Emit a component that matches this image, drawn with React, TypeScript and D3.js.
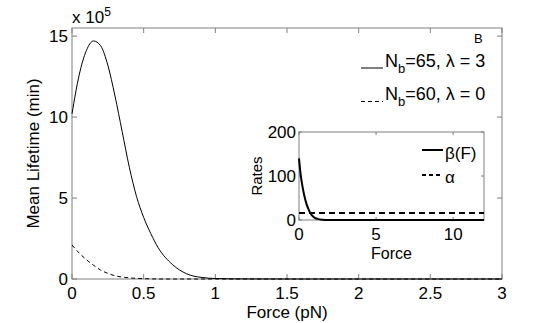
import React from 'react';
import * as d3 from 'd3';

// main panel: mean lifetime (x 10^5 min) vs force (pN)
const force = [0, 0.05, 0.1, 0.15, 0.2, 0.25, 0.3, 0.35, 0.4, 0.45, 0.5, 0.55, 0.6, 0.7, 0.8, 0.9, 1.0, 1.2, 1.5, 2, 2.5, 3];
const lifetimeNb65 = [10.2, 12.6, 14.1, 14.7, 14.4, 13.2, 11.3, 9.1, 6.9, 5.1, 3.8, 2.8, 1.95, 0.9, 0.32, 0.1, 0.03, 0.005, 0, 0, 0, 0];
const lifetimeNb60 = [2.1, 1.6, 1.2, 0.85, 0.55, 0.35, 0.2, 0.12, 0.07, 0.04, 0.02, 0.01, 0, 0, 0, 0, 0, 0, 0, 0, 0, 0];

const xTicks = [0, 0.5, 1, 1.5, 2, 2.5, 3];
const yTicks = [0, 5, 10, 15];

// inset: rates vs force
const insetForce = [0, 0.1, 0.25, 0.4, 0.5, 0.6, 0.75, 0.9, 1.0, 1.2, 1.5, 2, 3, 5, 8, 12];
const beta = [140, 105, 72, 47, 35, 26, 15, 8.5, 5.5, 2.5, 0.8, 0.1, 0, 0, 0, 0];
const alpha = insetForce.map(() => 16);
const insetXTicks = [0, 5, 10];
const insetYTicks = [0, 100, 200];

const font = '"Liberation Sans", Arial, Helvetica, sans-serif';
const axisColor = '#7f7f7f';

export default function App() {
  const W = 554, H = 323;
  const m = { left: 72, right: 502, top: 28, bottom: 279 };

  const x = d3.scaleLinear().domain([0, 3]).range([m.left, m.right]);
  const y = d3.scaleLinear().domain([0, 15.5]).range([m.bottom, m.top]);

  const line = d3.line<number>()
    .x((_, i) => x(force[i]))
    .curve(d3.curveMonotoneX);

  const solidPath = line.y((d) => y(d))(lifetimeNb65) || '';
  const dashPath = line.y((d) => y(d))(lifetimeNb60) || '';

  // inset
  const ins = { left: 299, right: 484, top: 132, bottom: 220 };
  const xi = d3.scaleLinear().domain([0, 12]).range([ins.left, ins.right]);
  const yi = d3.scaleLinear().domain([0, 200]).range([ins.bottom, ins.top]);
  const iline = d3.line<number>()
    .x((_, i) => xi(insetForce[i]))
    .y((d) => yi(d))
    .curve(d3.curveMonotoneX);

  const tk = 5;

  return (
    <svg width={W} height={H} style={{ position: 'absolute', left: 0, top: 0, background: '#fff' }}
      fontFamily={font}>
      <rect x={0} y={0} width={W} height={H} fill="#fff" />

      {/* main box */}
      <rect x={m.left} y={m.top} width={m.right - m.left} height={m.bottom - m.top}
        fill="none" stroke={axisColor} strokeWidth={1} />
      {xTicks.map((t) => (
        <g key={'xt' + t}>
          <line x1={x(t)} x2={x(t)} y1={m.bottom} y2={m.bottom - tk} stroke={axisColor} />
          <line x1={x(t)} x2={x(t)} y1={m.top} y2={m.top + tk} stroke={axisColor} />
          <text x={x(t)} y={299} fontSize={17} textAnchor="middle">{t}</text>
        </g>
      ))}
      {yTicks.map((t) => (
        <g key={'yt' + t}>
          <line x1={m.left} x2={m.left + tk} y1={y(t)} y2={y(t)} stroke={axisColor} />
          <line x1={m.right} x2={m.right - tk} y1={y(t)} y2={y(t)} stroke={axisColor} />
          <text x={68} y={y(t) + 6} fontSize={17} textAnchor="end">{t}</text>
        </g>
      ))}
      <text x={72} y={23} fontSize={17}>x 10<tspan dy={-7} fontSize={12}>5</tspan></text>
      <text x={(m.left + m.right) / 2} y={318} fontSize={17} textAnchor="middle">Force (pN)</text>
      <text transform={`translate(39,${(m.top + m.bottom) / 2}) rotate(-90)`} fontSize={17}
        textAnchor="middle">Mean Lifetime (min)</text>

      <path d={solidPath} fill="none" stroke="#000" strokeWidth={1} />
      <path d={dashPath} fill="none" stroke="#000" strokeWidth={1} strokeDasharray="4,3" />

      {/* panel letter and legend */}
      <text x={474} y={43} fontSize={13}>B</text>
      <line x1={361} x2={383} y1={68} y2={68} stroke="#000" />
      <text x={385} y={67} fontSize={18}>N<tspan dy={6} fontSize={13}>b</tspan><tspan dy={-6}>=65, λ = 3</tspan></text>
      <line x1={361} x2={383} y1={101.5} y2={101.5} stroke="#000" strokeDasharray="4,3" />
      <text x={385} y={100} fontSize={18}>N<tspan dy={6} fontSize={13}>b</tspan><tspan dy={-6}>=60, λ = 0</tspan></text>

      {/* inset */}
      <rect x={ins.left} y={ins.top} width={ins.right - ins.left} height={ins.bottom - ins.top}
        fill="#fff" stroke={axisColor} />
      {insetXTicks.map((t) => (
        <g key={'ixt' + t}>
          <line x1={xi(t)} x2={xi(t)} y1={ins.bottom} y2={ins.bottom - 3} stroke={axisColor} />
          <line x1={xi(t)} x2={xi(t)} y1={ins.top} y2={ins.top + 3} stroke={axisColor} />
          <text x={xi(t)} y={240} fontSize={17} textAnchor="middle">{t}</text>
        </g>
      ))}
      {insetYTicks.map((t) => (
        <g key={'iyt' + t}>
          <line x1={ins.left} x2={ins.left + 3} y1={yi(t)} y2={yi(t)} stroke={axisColor} />
          <line x1={ins.right} x2={ins.right - 3} y1={yi(t)} y2={yi(t)} stroke={axisColor} />
          <text x={296} y={yi(t) + 6} fontSize={17} textAnchor="end">{t}</text>
        </g>
      ))}
      <text x={(ins.left + ins.right) / 2} y={259} fontSize={16} textAnchor="middle">Force</text>
      <text transform={`translate(262,${(ins.top + ins.bottom) / 2}) rotate(-90)`} fontSize={15}
        textAnchor="middle">Rates</text>
      <path d={iline(alpha) || ''} fill="none" stroke="#000" strokeWidth={2} strokeDasharray="6,4" />
      <path d={iline(beta) || ''} fill="none" stroke="#000" strokeWidth={2} />

      <line x1={422} x2={443} y1={150} y2={150} stroke="#000" strokeWidth={2} />
      <text x={445} y={159} fontSize={17}>β(F)</text>
      <line x1={422} x2={443} y1={175} y2={175} stroke="#000" strokeWidth={2} strokeDasharray="4,3" />
      <text x={445} y={183} fontSize={17}>α</text>
    </svg>
  );
}
